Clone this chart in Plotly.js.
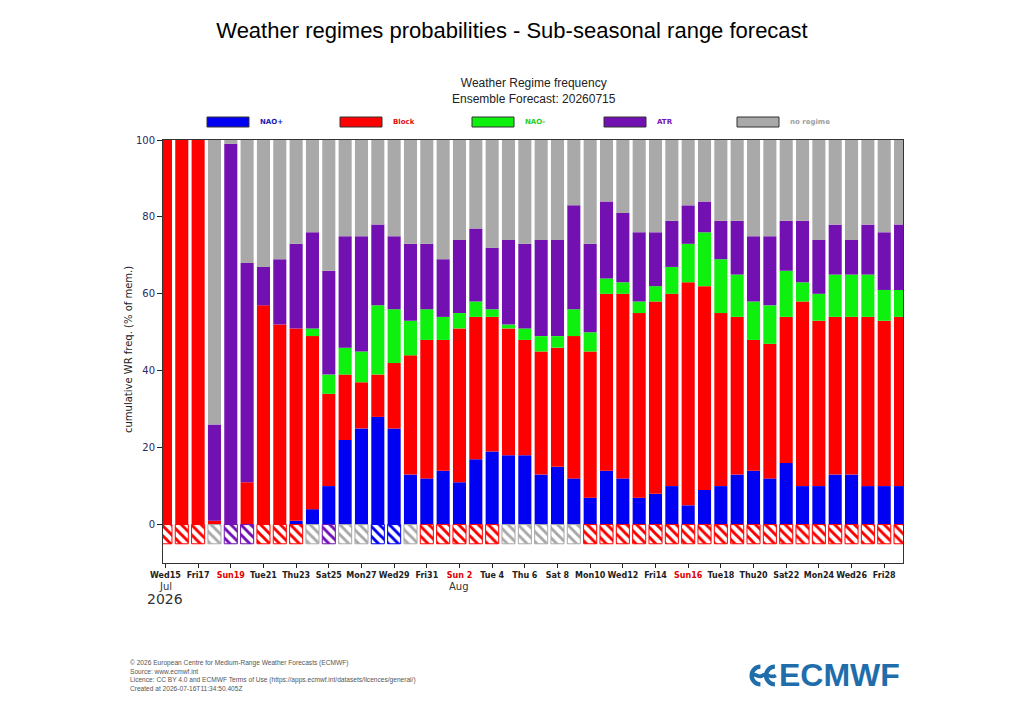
<!DOCTYPE html>
<html><head><meta charset="utf-8">
<script src="https://cdn.plot.ly/plotly-3.0.1.min.js"></script>
<style>html,body{margin:0;padding:0;background:#fff}#chart{width:1024px;height:720px}</style>
</head><body><div id="chart"></div>
<script>
// ---------------- DATA ----------------
const dates = ['2026-07-15','2026-07-16','2026-07-17','2026-07-18','2026-07-19','2026-07-20','2026-07-21','2026-07-22','2026-07-23','2026-07-24',
  '2026-07-25','2026-07-26','2026-07-27','2026-07-28','2026-07-29','2026-07-30','2026-07-31','2026-08-01','2026-08-02','2026-08-03',
  '2026-08-04','2026-08-05','2026-08-06','2026-08-07','2026-08-08','2026-08-09','2026-08-10','2026-08-11','2026-08-12','2026-08-13',
  '2026-08-14','2026-08-15','2026-08-16','2026-08-17','2026-08-18','2026-08-19','2026-08-20','2026-08-21','2026-08-22','2026-08-23',
  '2026-08-24','2026-08-25','2026-08-26','2026-08-27','2026-08-28','2026-08-29'];
const naoPlus  = [0,0,0,0,0,0,0,0,1,4, 10,22,25,28,25,13,12,14,11,17, 19,18,18,13,15,12,7,14,12,7, 8,10,5,9,10,13,14,12,16,10, 10,13,13,10,10,10];
const block    = [100,100,100,1,0,11,57,52,50,45, 24,17,12,11,17,31,36,34,40,37, 35,33,30,32,31,37,38,46,48,48, 50,50,58,53,45,41,34,35,38,48, 43,41,41,44,43,44];
const naoMinus = [0,0,0,0,0,0,0,0,0,2, 5,7,8,18,14,9,8,6,4,4, 2,1,3,4,3,7,5,4,3,3, 4,7,10,14,14,11,10,10,12,5, 7,11,11,11,8,7];
const atr      = [0,0,0,25,99,57,10,17,22,25, 27,29,30,21,19,20,17,15,19,19, 16,22,22,25,25,27,23,20,18,18, 14,12,10,8,10,14,17,18,13,16, 14,13,9,13,15,17];
const noRegime = [0,0,0,74,1,32,33,31,27,24, 34,25,25,22,25,27,27,31,26,23, 28,26,27,26,26,17,27,16,19,24, 24,21,17,16,21,21,25,25,21,21, 26,22,26,22,24,22];
const dominant = ['Block','Block','Block','no regime','ATR','ATR','Block','Block','Block','no regime',
  'ATR','no regime','no regime','NAO+','NAO+','no regime','Block','Block','Block','Block',
  'Block','no regime','no regime','no regime','no regime','no regime','Block','Block','Block','Block',
  'Block','Block','Block','Block','Block','Block','Block','Block','Block','Block',
  'Block','Block','Block','Block','Block','Block'];
const tickDates = ['2026-07-15','2026-07-17','2026-07-19','2026-07-21','2026-07-23','2026-07-25','2026-07-27','2026-07-29','2026-07-31',
  '2026-08-02','2026-08-04','2026-08-06','2026-08-08','2026-08-10','2026-08-12','2026-08-14','2026-08-16','2026-08-18','2026-08-20',
  '2026-08-22','2026-08-24','2026-08-26','2026-08-28'];
const tickLabels = ['Wed15','Fri17','Sun19','Tue21','Thu23','Sat25','Mon27','Wed29','Fri31','Sun 2','Tue 4','Thu 6','Sat 8',
  'Mon10','Wed12','Fri14','Sun16','Tue18','Thu20','Sat22','Mon24','Wed26','Fri28'];
const regimeNames = ['NAO+','Block','NAO-','ATR','no regime'];
const regimeSeries = [naoPlus, block, naoMinus, atr, noRegime];

// ---------------- STYLE ----------------
const regimeColors = {'NAO+':'#0000f2','Block':'#ff0000','NAO-':'#0ef00e','ATR':'#7210b2','no regime':'#a9a9a9'};
const labelColors  = {'NAO+':'#1a1ab8','Block':'#e01010','NAO-':'#22d022','ATR':'#7210b2','no regime':'#a0a0a0'};
const DAY = 86400000;
const BAR_W = DAY * 0.8;
const L = 163, R = 903, T = 140, B = 563;
const px2x = p => (p - L) / (R - L);
const px2y = p => (B - p) / (B - T);

const traces = regimeNames.map((name, k) => ({
  type: 'bar', name: name, x: dates, y: regimeSeries[k], width: BAR_W,
  marker: {color: regimeColors[name], line: {width: 0}},
  showlegend: false, hoverinfo: 'x+y+name'
}));
const domColors = dominant.map(d => regimeColors[d]);
traces.push({
  type: 'bar', name: 'dominant', x: dates, y: dominant.map(() => -5), width: BAR_W,
  marker: {color: domColors, line: {color: domColors, width: 1},
    pattern: {shape: '\\', fgcolor: '#ffffff', bgcolor: domColors, fillmode: 'replace', size: 7, solidity: 0.42}},
  showlegend: false, hoverinfo: 'x+text', text: dominant, textposition: 'none'
});

const tickText = tickLabels.map(t => t.startsWith('Sun') ? '<span style="color:#e00000">' + t + '</span>' : t);

const shapes = [], annotations = [];
const legX = [207, 340, 472, 604, 737];
regimeNames.forEach((name, k) => {
  shapes.push({type: 'rect', xref: 'paper', yref: 'paper', x0: px2x(legX[k]), x1: px2x(legX[k] + 42),
    y0: px2y(127), y1: px2y(117), fillcolor: regimeColors[name], line: {color: '#333', width: 1}});
  annotations.push({xref: 'paper', yref: 'paper', x: px2x(legX[k] + 51), y: px2y(122), xanchor: 'left', yanchor: 'middle',
    text: '<b>' + name + '</b>', showarrow: false, font: {family: 'DejaVu Sans', size: 7, color: labelColors[name]}});
});
annotations.push({xref: 'paper', yref: 'paper', x: px2x(534), y: px2y(91), xanchor: 'center', yanchor: 'middle',
  text: 'Weather Regime frequency<br>Ensemble Forecast: 20260715', showarrow: false,
  font: {family: 'Liberation Sans Narrow, Liberation Sans', size: 12, color: '#222'}});
annotations.push({xref: 'paper', yref: 'paper', x: px2x(128), y: px2y(350), xanchor: 'center', yanchor: 'middle',
  textangle: -90, text: 'cumulative WR freq. (% of mem.)', showarrow: false,
  font: {family: 'DejaVu Sans', size: 10, color: '#222'}});
annotations.push({xref: 'x', yref: 'paper', x: '2026-07-15', y: px2y(586), xanchor: 'center', yanchor: 'middle',
  text: 'Jul', showarrow: false, font: {family: 'DejaVu Sans', size: 10, color: '#333'}});
annotations.push({xref: 'x', yref: 'paper', x: '2026-08-02', y: px2y(586), xanchor: 'center', yanchor: 'middle',
  text: 'Aug', showarrow: false, font: {family: 'DejaVu Sans', size: 10, color: '#333'}});
annotations.push({xref: 'x', yref: 'paper', x: '2026-07-15', y: px2y(599), xanchor: 'center', yanchor: 'middle',
  text: '2026', showarrow: false, font: {family: 'DejaVu Sans', size: 14, color: '#333'}});
annotations.push({xref: 'paper', yref: 'paper', x: px2x(128), y: px2y(657), xanchor: 'left', yanchor: 'top', align: 'left',
  text: '© 2026 European Centre for Medium-Range Weather Forecasts (ECMWF)<br>Source: www.ecmwf.int<br>Licence: CC BY 4.0 and ECMWF Terms of Use (https://apps.ecmwf.int/datasets/licences/general/)<br>Created at 2026-07-16T11:34:50.405Z',
  showarrow: false, font: {family: 'Liberation Sans', size: 6.6, color: '#555'}});
annotations.push({xref: 'paper', yref: 'paper', x: px2x(777), y: px2y(675), xanchor: 'left', yanchor: 'middle',
  text: '<b>ECMWF</b>', showarrow: false, font: {family: 'Liberation Sans', size: 32, color: '#1f6eab'}});

const logoSvg = '<svg xmlns="http://www.w3.org/2000/svg" viewBox="0 0 30 26">' +
  '<path d="M13 4.5 A8.5 8.5 0 1 0 13 21.5" fill="none" stroke="#1f6eab" stroke-width="4.2"/>' +
  '<path d="M27 4.5 A8.5 8.5 0 1 0 27 21.5" fill="none" stroke="#1f6eab" stroke-width="4.2"/>' +
  '<path d="M4 13 C8 9.5 11 16.5 15 13 C19 9.5 22 16.5 28 13" fill="none" stroke="#1f6eab" stroke-width="3.6"/></svg>';

const layout = {
  width: 1024, height: 720, paper_bgcolor: '#fff', plot_bgcolor: '#fff',
  margin: {l: L, r: 1024 - R, t: T, b: 720 - B, pad: 0},
  title: {text: 'Weather regimes probabilities - Sub-seasonal range forecast', x: 0.5, xanchor: 'center',
    y: 1 - 30 / 720, yanchor: 'middle', yref: 'container', font: {family: 'Liberation Sans', size: 22, color: '#000'}},
  barmode: 'relative', showlegend: false,
  xaxis: {type: 'date', range: ['2026-07-14 20:24', '2026-08-29 03:36'], tickmode: 'array', tickvals: tickDates,
    ticktext: tickText, ticks: 'outside', ticklen: 4, tickcolor: '#222', showgrid: false, zeroline: false,
    showline: true, linecolor: '#333', linewidth: 1, mirror: true, tickangle: 0,
    tickfont: {family: 'DejaVu Sans', size: 8, color: '#222', weight: 'bold'}, fixedrange: true},
  yaxis: {range: [-10, 100], tickvals: [0, 20, 40, 60, 80, 100], ticks: 'outside', ticklen: 5, tickcolor: '#222',
    showgrid: false, zeroline: false, showline: true, linecolor: '#333', linewidth: 1, mirror: true,
    tickfont: {family: 'DejaVu Sans', size: 10, color: '#2a2a62'}, fixedrange: true},
  shapes: shapes, annotations: annotations,
  images: [{source: 'data:image/svg+xml;charset=utf-8,' + encodeURIComponent(logoSvg), xref: 'paper', yref: 'paper',
    x: px2x(747), y: px2y(662), sizex: px2x(778) - px2x(747), sizey: px2y(662) - px2y(689),
    xanchor: 'left', yanchor: 'top', sizing: 'stretch', layer: 'above'}]
};
Plotly.newPlot('chart', traces, layout, {displayModeBar: false, staticPlot: true});
</script></body></html>
